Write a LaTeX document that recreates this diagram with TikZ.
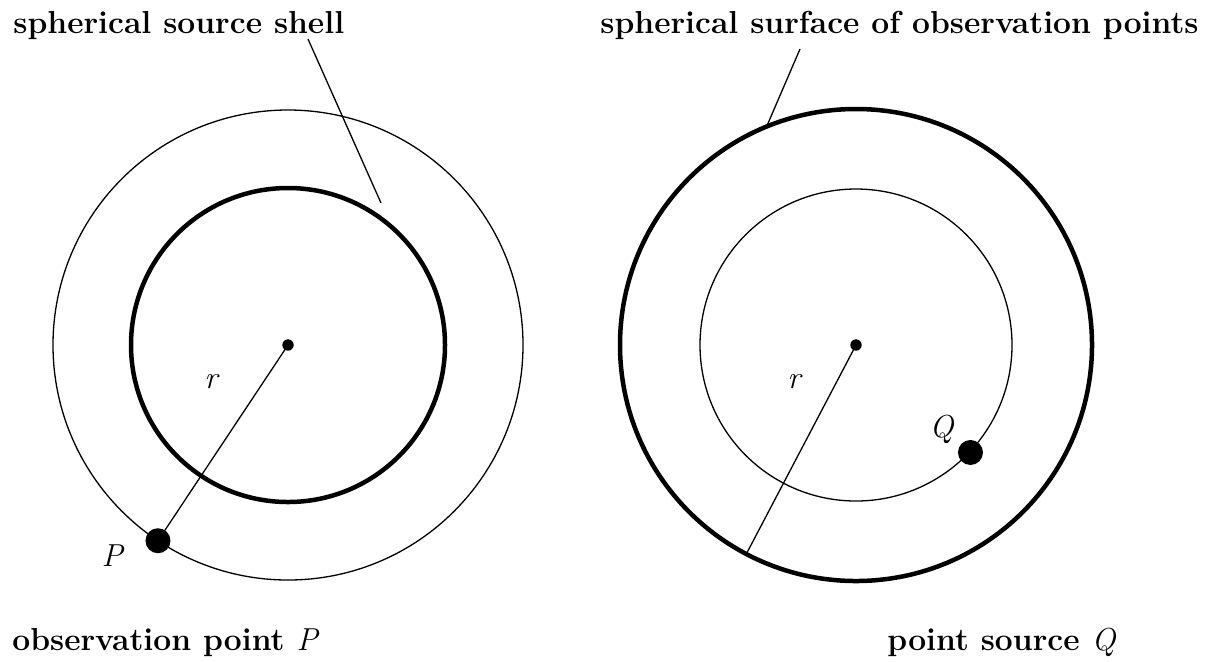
\documentclass[tikz,border=0pt]{standalone}
\usepackage{fontspec}
\usetikzlibrary{calc}
\newcommand{\mi}[1]{\textit{\mdseries #1}}
\begin{document}
\begin{tikzpicture}[x=0.5pt,y=-0.5pt,
  thinline/.style={line width=0.65pt},
  thickline/.style={line width=2.25pt},
  cdot/.style={circle,fill=black,inner sep=0pt,minimum size=5.7pt},
  bigdot/.style={circle,fill=black,inner sep=0pt,minimum size=12.5pt},
  lbl/.style={font=\fontsize{15.9}{18}\selectfont\bfseries,inner sep=0pt,anchor=base west},
  mlbl/.style={font=\fontsize{15.9}{18}\selectfont,inner sep=0pt}]
\useasboundingbox (0,0) rectangle (1208,661);
% left figure
\coordinate (c1) at (288,345);
\draw[thinline] (c1) circle[radius=235];
\draw[thickline] (c1) circle[radius=157];
\node[cdot] (o1) at (c1) {};
\node[bigdot] (P) at ($(c1)+(123.6:235)$) {};
\draw[thinline] (o1.center) -- (P.center);
\node[mlbl] (r1) at (212,382) {\mi{r}};
\node[mlbl] (Plab) at (113,556) {\mi{P}};
% right figure
\coordinate (c2) at (856,345);
\draw[thickline] (c2) circle[radius=236];
\draw[thinline] (c2) circle[radius=156];
\node[cdot] (o2) at (c2) {};
\coordinate (rend) at ($(c2)+(117.7:236)$);
\draw[thinline] (o2.center) -- (rend);
\node[bigdot] (Q) at ($(c2)+(43.2:157)$) {};
\node[mlbl] (r2) at (795,382) {\mi{r}};
\node[mlbl] (Qlab) at (942,429) {\mi{Q}};
% labels
\node[lbl] (t1) at (13,33) {spherical source shell};
\node[lbl] (t2) at (600,33) {spherical surface of observation points};
\node[lbl] (b1) at (12,650) {observation point \mi{P}};
\node[lbl] (b2) at (887,650) {point source \mi{Q}};
% leader lines
\coordinate (l1a) at (308,39);
\coordinate (l1b) at (381,203);
\draw[thinline] (l1a) -- (l1b);
\coordinate (l2a) at (800,49);
\coordinate (l2b) at (766,128);
\draw[thinline] (l2a) -- (l2b);
\end{tikzpicture}
\end{document}
